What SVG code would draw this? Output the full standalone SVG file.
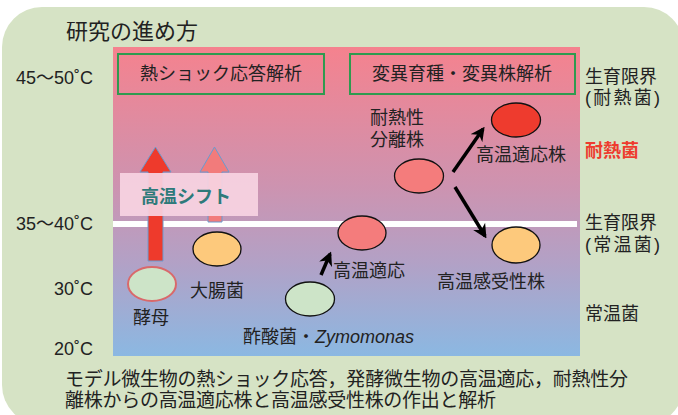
<svg xmlns="http://www.w3.org/2000/svg" width="678" height="415" viewBox="0 0 678 415">
<defs>
<linearGradient id="bg" x1="0" y1="0" x2="0" y2="1">
<stop offset="0" stop-color="#f5828e"/>
<stop offset="0.45" stop-color="#cd93b0"/>
<stop offset="0.7" stop-color="#b2a1c6"/>
<stop offset="1" stop-color="#8bb8e2"/>
</linearGradient>
<marker id="ah" viewBox="0 0 10 10" refX="8" refY="5" markerWidth="14" markerHeight="14" markerUnits="userSpaceOnUse" orient="auto">
<path d="M0,0 L10,5 L0,10 L3,5 z" fill="#000"/>
</marker>
</defs>
<style>
text{font-family:"Liberation Sans","Noto Sans CJK JP",sans-serif;fill:#222;font-size:18px}
text.t{font-size:22px}
text.b{font-size:19px}
.c{text-anchor:middle}
.box{fill:none;stroke:#2f9a4f;stroke-width:2}
.el{stroke:#111;stroke-width:1.3}
.con{stroke:#000;stroke-width:3.5;fill:none;marker-end:url(#ah)}
</style>
<rect x="2" y="7" width="682" height="418" rx="40" fill="#d6e3c5"/>
<text class="t" x="66" y="39">研究の進め方</text>
<rect x="113" y="47" width="467" height="309" fill="url(#bg)"/>
<rect x="113" y="221" width="464" height="6" fill="#fff"/>
<g id="temps">
<text x="16" y="84">45〜50˚C</text>
<text x="16" y="230">35〜40˚C</text>
<text x="54" y="295">30˚C</text>
<text x="54" y="355">20˚C</text>
</g>
<g id="right-labels">
<text x="585" y="83">生育限界</text>
<text x="585" y="104" textLength="75">(耐熱菌)</text>
<text x="585" y="157" font-weight="bold" style="fill:#ee3b2e">耐熱菌</text>
<text x="585" y="229">生育限界</text>
<text x="585" y="251" textLength="75">(常温菌)</text>
<text x="585" y="320">常温菌</text>
</g>
<g id="heatshock">
<rect class="box" x="118" y="54" width="206" height="40"/>
<text class="c" x="221" y="80">熱ショック応答解析</text>
</g>
<g id="mutation">
<rect class="box" x="350" y="54" width="225" height="40"/>
<text class="c" x="462" y="80">変異育種・変異株解析</text>
</g>
<g id="shift-arrows">
<polygon points="148,261 163,261 163,172 171,172 155.5,147 140,172 148,172" fill="#ee3a2c" stroke="#6a9bd0" stroke-width="1"/>
<polygon points="208,222 222,222 222,172 229,172 214.5,147 200,172 208,172" fill="#f27b7b" stroke="#6a9bd0" stroke-width="1"/>
</g>
<g id="shift">
<rect x="120" y="173" width="138" height="43" fill="#f7d4e2" opacity="0.92"/>
<text class="c" x="186" y="203" font-weight="bold" style="fill:#2e7a7a">高温シフト</text>
</g>
<g id="yeast">
<ellipse cx="152" cy="284" rx="24" ry="17" fill="#cde4c8" stroke="#d9696b" stroke-width="2"/>
<text x="133" y="324">酵母</text>
</g>
<g id="ecoli">
<ellipse class="el" cx="217" cy="249" rx="24" ry="17" fill="#fdc97c"/>
<text x="190" y="297">大腸菌</text>
</g>
<g id="zymomonas">
<ellipse class="el" cx="310" cy="299" rx="24.5" ry="17" fill="#cde4c8"/>
<text x="243" y="343">酢酸菌・<tspan font-style="italic">Zymomonas</tspan></text>
</g>
<g id="adapt">
<ellipse class="el" cx="362" cy="233" rx="24" ry="17" fill="#f47c7c"/>
<text x="333" y="277">高温適応</text>
</g>
<g id="isolate">
<ellipse class="el" cx="419" cy="176" rx="24.5" ry="17" fill="#f47c7c"/>
<text x="370" y="124">耐熱性</text>
<text x="370" y="146">分離株</text>
</g>
<g id="adapted-strain">
<ellipse class="el" cx="516" cy="120" rx="24.5" ry="17" fill="#ee3b2e"/>
<text x="476" y="161">高温適応株</text>
</g>
<g id="sensitive-strain">
<ellipse class="el" cx="516" cy="245" rx="24" ry="18" fill="#fdc97c"/>
<text x="437" y="288">高温感受性株</text>
</g>
<g id="connectors">
<line class="con" x1="453" y1="172" x2="483" y2="129"/>
<line class="con" x1="455" y1="187" x2="485" y2="236"/>
<line class="con" x1="321" y1="275" x2="330" y2="254"/>
</g>
<text class="b" x="65" y="386" textLength="563">モデル微生物の熱ショック応答，発酵微生物の高温適応，耐熱性分</text>
<text class="b" x="65" y="407" textLength="431">離株からの高温適応株と高温感受性株の作出と解析</text>
</svg>
